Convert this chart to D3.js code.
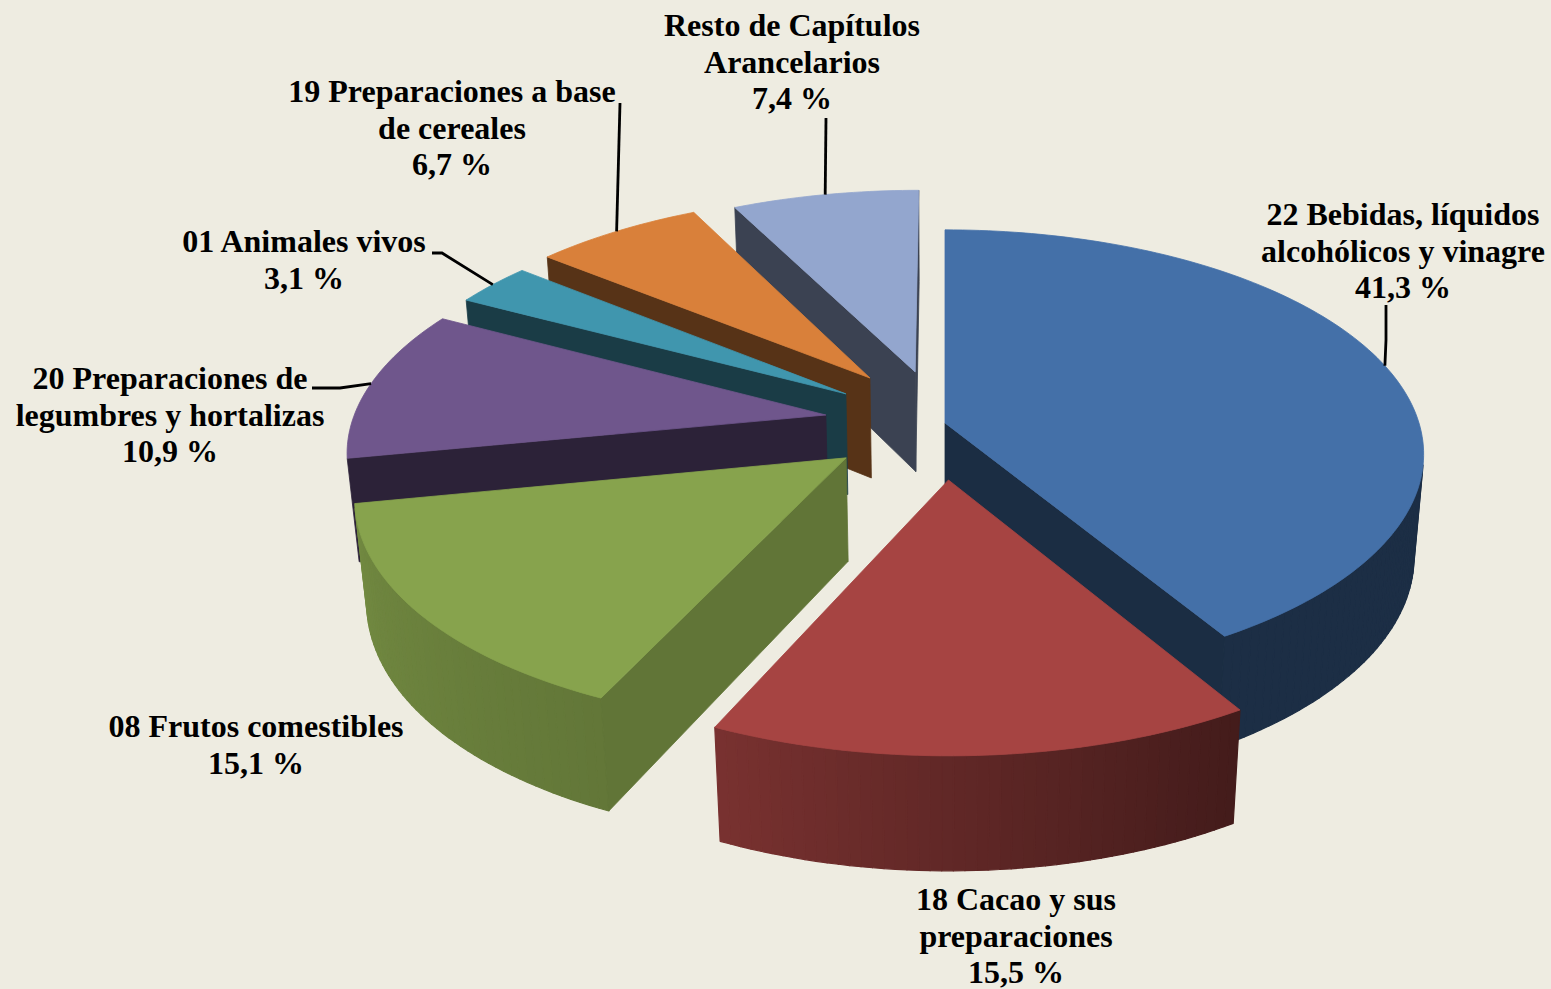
<!DOCTYPE html>
<html><head><meta charset="utf-8">
<script src="https://cdn.jsdelivr.net/npm/d3@7/dist/d3.min.js"></script>
<style>html,body{margin:0;padding:0;background:#EEECE1;overflow:hidden}svg{display:block}</style>
</head><body><svg id="c" width="1551" height="989"></svg>
<script>
// ---- data ----
const categories = [
  ["22 Bebidas, líquidos","alcohólicos y vinagre"],
  ["18 Cacao y sus","preparaciones"],
  ["08 Frutos comestibles"],
  ["20 Preparaciones de","legumbres y hortalizas"],
  ["01 Animales vivos"],
  ["19 Preparaciones a base","de cereales"],
  ["Resto de Capítulos","Arancelarios"]
];
const values = [41.3,15.5,15.1,10.9,3.1,6.7,7.4];
const colors = ["#4470A8","#A64442","#87A34D","#6F568C","#4096AE","#D9803A","#93A6CE"];

// ---- layout ----
const W=1551,H=989;
const explode = [[0,0],[.007,.25],[-.204,.155],[-.2526,-.0365],[-.213,-.135],[-.163,-.2106],[-.065,-.24]];
const radialShade = [.4,.4,.72,.4,.4,.4,.4];
const paintOrder = [6,5,4,3,2,0,1];
const labelPos = [[1403,225],[1016,910],[256,737],[170,389],[304,252],[452,102],[792,36]];
const leaders = [[[1386,305],[1386,340]],null,null,[[312,388],[340,388]],[[432,253],[442,253]],[[620,103]],[[826,118]]];
const persp=.139, depthPersp=.02, depth=104/220;
const sx=d3.scaleLinear().domain([-1,1]).range([945-474,945+474]);
const sy=d3.scaleLinear().domain([-1,1]).range([423-220,423+220]);
const wallShade=d3.scaleLinear().domain([150,205,260]).range([.41,.73,.85]).clamp(true);

function project(X,Y,Z){
  const w=1-persp*Y+depthPersp*Z;
  return [sx(X/w), sy((Y+depth*Z)/w)];
}
function rim(i,a,Z){ // a in radians clockwise from the far side
  return project(explode[i][0]+Math.sin(a), explode[i][1]-Math.cos(a), Z);
}
function apex(i,Z){ return project(explode[i][0],explode[i][1],Z); }
function shade(col,f){ const c=d3.rgb(col); return d3.rgb(c.r*f,c.g*f,c.b*f).formatHex(); }
function area(p){ return -d3.polygonArea(p); } // positive = clockwise on screen

const svg=d3.select("#c");
svg.append("rect").attr("width",W).attr("height",H).attr("fill","#EEECE1");
const pie=d3.pie().sort(null).startAngle(0).endAngle(2*Math.PI)(values);
const line=d3.line();
const closed=p=>line(p)+"Z";
const chart=svg.append("g");

function poly(g,p,fill,sw){
  g.append("path").attr("d",closed(p)).attr("fill",fill).attr("stroke",fill).attr("stroke-width",sw||.8).attr("stroke-linejoin","round");
}

paintOrder.forEach(i=>{
  const s=pie[i], g=chart.append("g"), col=colors[i];
  const a0=s.startAngle,a1=s.endAngle;
  const n=Math.max(4,Math.ceil((a1-a0)/(Math.PI/150)));
  const angs=d3.range(n+1).map(k=>a0+(a1-a0)*k/n);
  const rf=shade(col,radialShade[i]);
  // outer wall
  for(let k=0;k<n;k++){
    const q=[rim(i,angs[k],0),rim(i,angs[k+1],0),rim(i,angs[k+1],1),rim(i,angs[k],1)];
    if(area(q)<0){
      const deg=(angs[k]+angs[k+1])/2*180/Math.PI;
      poly(g,q,shade(col,wallShade(deg)),1.2);
    }
  }
  // radial cut faces
  const fs=[apex(i,0),rim(i,a0,0),rim(i,a0,1),apex(i,1)];
  const fe=[apex(i,0),rim(i,a1,0),rim(i,a1,1),apex(i,1)];
  if(area(fs)<0) poly(g,fs,rf);
  if(area(fe)>0) poly(g,fe,rf);
  // top face
  poly(g,[apex(i,0),...angs.map(a=>rim(i,a,0))],col);
});

// leader lines
leaders.forEach((l,i)=>{
  if(!l) return;
  const mid=(pie[i].startAngle+pie[i].endAngle)/2;
  svg.append("path").attr("d",line([...l,rim(i,mid,0)])).attr("fill","none").attr("stroke","#000").attr("stroke-width",2.8);
});

// labels
const fmt=d3.formatLocale({decimal:",",thousands:".",grouping:[3],currency:["",""]}).format(".1f");
categories.forEach((lines,i)=>{
  const t=svg.append("text").attr("font-family","'Liberation Serif','Times New Roman',serif")
    .attr("font-weight","bold").attr("font-size",32).attr("fill","#000").attr("text-anchor","middle");
  [...lines,fmt(values[i])+" %"].forEach((s,k)=>{
    t.append("tspan").attr("x",labelPos[i][0]).attr("y",labelPos[i][1]+k*36.6).text(s);
  });
});
</script></body></html>
